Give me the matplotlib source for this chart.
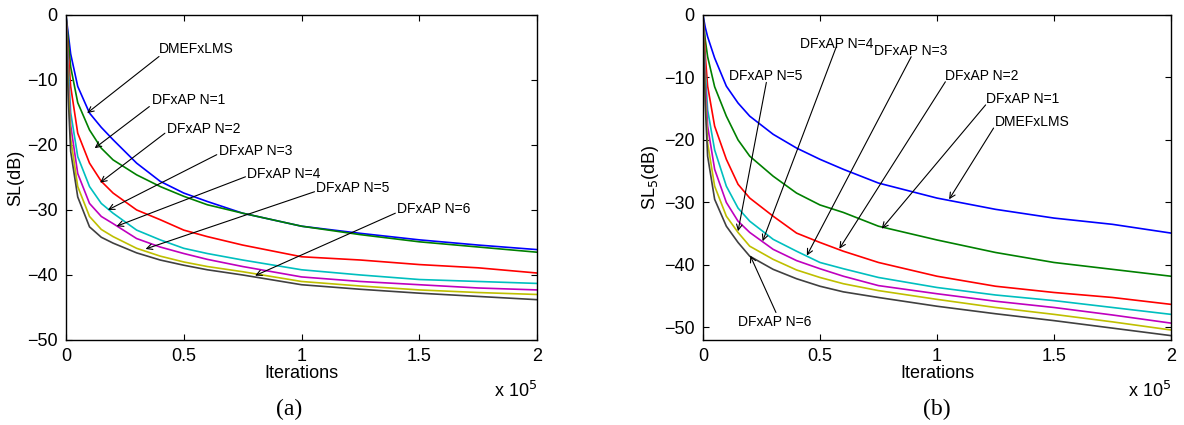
# SL learning curves, DMEFxLMS vs DFxAP (a) and (b)
import numpy as np
import matplotlib.pyplot as plt

plt.rcParams['font.family'] = ['Liberation Sans', 'DejaVu Sans']

# iterations, in units of 1e5
iters = [0, 0.005, 0.01, 0.02, 0.05, 0.1, 0.15, 0.2, 0.3, 0.4, 0.5, 0.6, 0.75, 1.0, 1.25, 1.5, 1.75, 2.0]

labels = ['DMEFxLMS', 'DFxAP N=1', 'DFxAP N=2', 'DFxAP N=3', 'DFxAP N=4', 'DFxAP N=5', 'DFxAP N=6']
colors = [(0, 0, 1), (0, 0.5, 0), (1, 0, 0), (0, 0.75, 0.75), (0.75, 0, 0.75), (0.75, 0.75, 0), (0.25, 0.25, 0.25)]

# panel (a): SL(dB)
sl_a = [
    [0, -1.5, -3, -6, -11, -15.1, -17.3, -19.2, -22.8, -25.6, -27.4, -28.7, -30.5, -32.5, -33.6, -34.6, -35.4, -36.1],
    [0, -2, -4, -8, -13.5, -17.7, -20.5, -22.3, -24.6, -26.4, -27.9, -29.2, -30.5, -32.5, -33.8, -34.9, -35.7, -36.5],
    [0, -3, -6, -11, -18.2, -22.8, -25.6, -27.4, -30, -31.5, -33.1, -34.1, -35.4, -37.2, -37.7, -38.4, -38.9, -39.7],
    [0, -4, -8, -15, -21.8, -26.4, -29, -30.5, -33.1, -34.6, -35.9, -36.7, -37.7, -39.2, -40, -40.7, -41, -41.3],
    [0, -5, -10, -17, -24.4, -29, -31, -32.1, -34.4, -35.7, -36.7, -37.6, -38.7, -40.3, -41, -41.5, -42, -42.3],
    [0, -6, -11, -19, -26.4, -31, -33, -34.1, -35.9, -37.1, -38, -38.7, -39.5, -41, -41.7, -42.3, -42.7, -43],
    [0, -7, -13, -21, -28, -32.6, -34.2, -35.1, -36.6, -37.7, -38.5, -39.2, -40, -41.5, -42.2, -42.8, -43.3, -43.8],
]

# panel (b): SL5(dB)
sl_b = [
    [0, -1, -2, -3.5, -6.9, -11.4, -14.1, -16.2, -19.1, -21.3, -23.1, -24.7, -26.9, -29.3, -31.1, -32.5, -33.5, -34.9],
    [0, -2, -4, -6.7, -11.5, -16.2, -20, -22.6, -25.8, -28.5, -30.4, -31.6, -33.8, -36, -38, -39.6, -40.7, -41.8],
    [0, -3, -6.5, -11.4, -17.8, -23.1, -27.1, -29.3, -32.2, -34.9, -36.4, -37.8, -39.6, -41.8, -43.4, -44.4, -45.2, -46.3],
    [0, -4.5, -9, -15.2, -21.6, -27.4, -30.9, -33, -35.9, -37.8, -39.6, -40.6, -42, -43.6, -44.8, -45.7, -46.8, -47.9],
    [0, -5.5, -11, -17.8, -24.7, -30, -33, -34.8, -37.5, -39.3, -40.6, -41.8, -43.3, -44.6, -45.8, -46.8, -48, -49.3],
    [0, -6.5, -13, -20.5, -27.4, -32.2, -34.8, -37, -39.1, -40.8, -42, -43, -44.1, -45.5, -46.8, -47.9, -49.1, -50.4],
    [0, -7.5, -14.5, -22.6, -29.5, -33.8, -36.4, -38.6, -40.7, -42.2, -43.4, -44.3, -45.2, -46.6, -47.8, -48.9, -50.1, -51.3],
]

# annotations: label index, text xy, arrow start, arrow tip
notes_a = [
    (0, (0.395, -5.3), (0.395, -6.4), (0.09, -15.1)),
    (1, (0.367, -13.1), (0.354, -14.1), (0.122, -20.5)),
    (2, (0.43, -17.5), (0.42, -18.2), (0.145, -25.8)),
    (3, (0.651, -20.9), (0.64, -21.5), (0.178, -30)),
    (4, (0.77, -24.4), (0.762, -24.9), (0.215, -32.5)),
    (5, (1.06, -26.7), (1.055, -27.2), (0.338, -36)),
    (6, (1.406, -29.9), (1.398, -30.5), (0.803, -40.1)),
]
notes_b = [
    (4, (0.414, -4.6), (0.57, -5.1), (0.255, -36.2)),
    (3, (0.732, -5.7), (0.89, -6.7), (0.444, -38.5)),
    (2, (1.036, -9.7), (1.036, -10.7), (0.583, -37.4)),
    (1, (1.208, -13.4), (1.208, -14.4), (0.764, -34.2)),
    (0, (1.246, -17.2), (1.242, -18.1), (1.052, -29.5)),
    (5, (0.11, -9.7), (0.271, -10.8), (0.15, -34.6)),
    (6, (0.15, -49.2), (0.312, -47.6), (0.202, -38.5)),
]

fig = plt.figure(figsize=(11.84, 4.25), dpi=100, facecolor='w')
ax1 = fig.add_axes([0.0557, 0.2, 0.398, 0.765])
ax2 = fig.add_axes([0.5937, 0.2, 0.3953, 0.765])


def panel(ax, data, notes, ylim, ylab, cap, capx):
    for s, c in zip(data, colors):
        ax.plot(iters, s, '-', color=c, lw=1.2)
    for i, txy, a0, a1 in notes:
        ax.text(txy[0], txy[1], labels[i], fontsize=10, ha='left', va='center')
        ax.annotate('', xy=a1, xytext=a0,
                    arrowprops=dict(arrowstyle='->', color='k', lw=0.8,
                                    shrinkA=0, shrinkB=0, mutation_scale=10))
    ax.set_xlim(0, 2)
    ax.set_ylim(*ylim)
    ax.set_xticks([0, 0.5, 1, 1.5, 2])
    ax.set_xticklabels(['0', '0.5', '1', '1.5', '2'])
    ax.set_yticks([0, -10, -20, -30, -40, -50])
    ax.tick_params(direction='in', top=True, right=True, labelsize=13, length=4, pad=6)
    ax.set_xlabel('Iterations', fontsize=13, labelpad=0)
    ax.set_ylabel(ylab, fontsize=13, labelpad=2)
    ax.text(1.0, -0.125, r'x 10$^5$', transform=ax.transAxes, ha='right', va='top', fontsize=13)
    ax.text(capx, -0.215, cap, transform=ax.transAxes, ha='center', va='center', fontsize=17,
            family='Liberation Serif')
    for sp in ax.spines.values():
        sp.set_linewidth(1.0)


panel(ax1, sl_a, notes_a, (-50, 0), 'SL(dB)', '(a)', 0.473)
panel(ax2, sl_b, notes_b, (-52, 0), r'SL$_5$(dB)', '(b)', 0.5)

plt.savefig('out.png', dpi=100)
